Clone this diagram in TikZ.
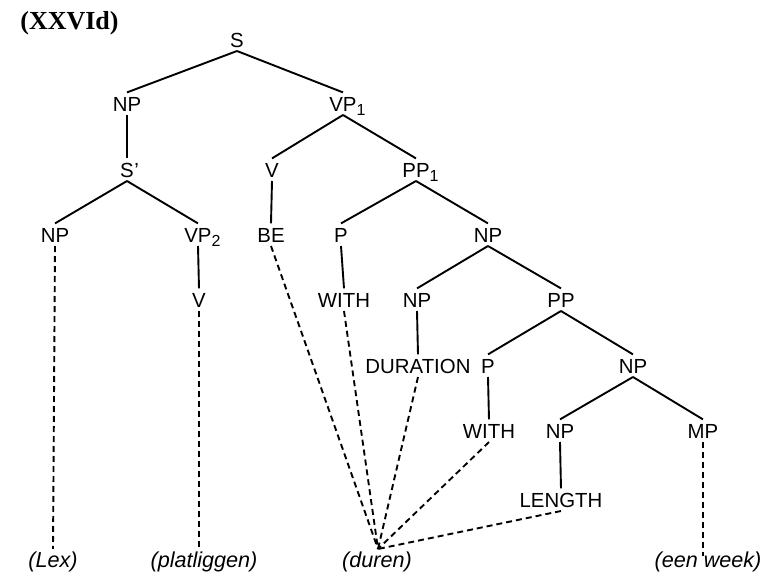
\documentclass[tikz,border=0pt]{standalone}
\usepackage{fontspec}
\setmainfont{Liberation Sans}
\newfontfamily\titlefont{Liberation Serif}
\newcommand{\subn}[1]{\rlap{\smash{\raisebox{-0.45ex}{\fontsize{8}{9}\selectfont #1}}}}
\begin{document}
\begin{tikzpicture}[x=0.5pt,y=-0.5pt,
  lab/.style={font=\fontsize{10.2}{12}\selectfont, anchor=base, inner sep=1.8pt, text height=7.3pt, text depth=0pt},
  leaf/.style={font=\fontsize{10.8}{13}\selectfont\itshape, anchor=base, inner sep=1pt},
  br/.style={line width=0.95pt},
  dl/.style={line width=0.95pt, dash pattern=on 3pt off 2pt}]
\useasboundingbox (0,0) rectangle (768,574);
\node[font=\titlefont\bfseries\fontsize{13}{15}\selectfont, anchor=base west, inner sep=0pt] (title) at (20,29) {(XXVId)};
% row 1
\node[lab] (S) at (237,47) {S};
% row 2
\node[lab] (NPa) at (127,111) {NP};
\node[lab] (VPa) at (343,111) {VP\subn{1}};
% row 3
\node[lab] (Sp) at (127,177) {S\rlap{\kern0.3pt’}};
\node[lab] (Va) at (272,177) {V};
\node[lab] (PPa) at (416,177) {PP\subn{1}};
% row 4
\node[lab] (NPb) at (55,242) {NP};
\node[lab] (VPb) at (198,242) {VP\subn{2}};
\node[lab] (BE) at (271,242) {BE};
\node[lab] (Pa) at (341,242) {P};
\node[lab] (NPc) at (488,242) {NP};
% row 5
\node[lab] (Vb) at (199,307) {V};
\node[lab] (WITHa) at (344,307) {WITH};
\node[lab] (NPd) at (417,307) {NP};
\node[lab] (PP) at (561,307) {PP};
% row 6
\node[lab] (DUR) at (418,373) {DURATION};
\node[lab] (Pb) at (488,373) {P};
\node[lab] (NPe) at (633,373) {NP};
% row 7
\node[lab] (WITHb) at (489,438) {WITH};
\node[lab] (NPf) at (560,438) {NP};
\node[lab] (MP) at (703,438) {MP};
% row 8
\node[lab] (LEN) at (561,507) {LENGTH};
% leaves
\node[leaf] (Lex) at (53,567) {(Lex)};
\node[leaf] (plat) at (204,567) {(platliggen)};
\node[leaf] (duren) at (377,567) {(duren)};
\node[leaf] (een) at (708,567) {(een week)};
\coordinate (dc) at (378,549);
\coordinate (ew) at (703,556);
% branches
\draw[br] (S.south) -- (NPa.north);
\draw[br] (S.south) -- (VPa.north);
\draw[br] (NPa.south) -- (Sp.north);
\draw[br] (VPa.south) -- (Va.north);
\draw[br] (VPa.south) -- (PPa.north);
\draw[br] (Sp.south) -- (NPb.north);
\draw[br] (Sp.south) -- (VPb.north);
\draw[br] (Va.south) -- (BE.north);
\draw[br] (PPa.south) -- (Pa.north);
\draw[br] (PPa.south) -- (NPc.north);
\draw[br] (VPb.south) -- (Vb.north);
\draw[br] (Pa.south) -- (WITHa.north);
\draw[br] (NPc.south) -- (NPd.north);
\draw[br] (NPc.south) -- (PP.north);
\draw[br] (NPd.south) -- (DUR.north);
\draw[br] (PP.south) -- (Pb.north);
\draw[br] (PP.south) -- (NPe.north);
\draw[br] (Pb.south) -- (WITHb.north);
\draw[br] (NPe.south) -- (NPf.north);
\draw[br] (NPe.south) -- (MP.north);
\draw[br] (NPf.south) -- (LEN.north);
% dashed links
\draw[dl] (NPb.south) -- (Lex.north);
\draw[dl] (Vb.south) -- (plat.north -| Vb.south);
\draw[dl] (BE.south) -- (dc);
\draw[dl] (WITHa.south) -- (dc);
\draw[dl] (DUR.south) -- (dc);
\draw[dl] (WITHb.south) -- (dc);
\draw[dl] (LEN.south) -- (dc);
\draw[dl] (MP.south) -- (ew);
\end{tikzpicture}
\end{document}
